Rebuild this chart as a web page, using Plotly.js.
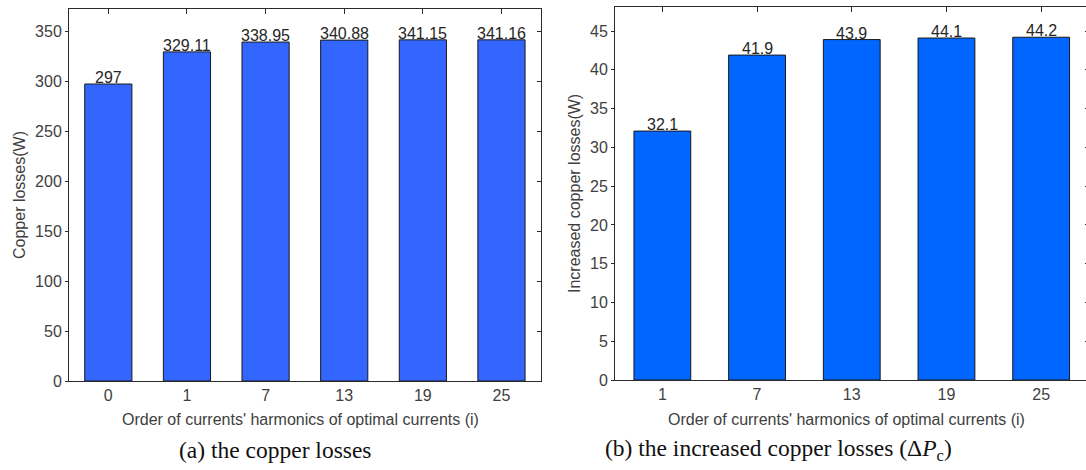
<!DOCTYPE html>
<html>
<head>
<meta charset="utf-8">
<script src="https://cdn.plot.ly/plotly-3.0.1.min.js"></script>
<style>
html, body { margin: 0; padding: 0; background: #ffffff; overflow: hidden; }
#chart { width: 1090px; height: 470px; }
</style>
</head>
<body>
<div id="chart"></div>
<script>
// ---- data ----
const harmonicsA = ['0', '1', '7', '13', '19', '25'];
const copperLosses = [297, 329.11, 338.95, 340.88, 341.15, 341.16];
const labelsA = ['297', '329.11', '338.95', '340.88', '341.15', '341.16'];

const harmonicsB = ['1', '7', '13', '19', '25'];
const increasedLosses = [32.1, 41.9, 43.9, 44.1, 44.2];
const labelsB = ['32.1', '41.9', '43.9', '44.1', '44.2'];

const yTicksA = [0, 50, 100, 150, 200, 250, 300, 350];
const yTicksB = [0, 5, 10, 15, 20, 25, 30, 35, 40, 45];

const xTitle = "Order of currents' harmonics of optimal currents (i)";
const yTitleA = 'Copper losses(W)';
const yTitleB = 'Increased copper losses(W)';
const captionA = '(a) the copper losses';
const captionB = '(b) the increased copper losses (\u0394<i>P</i><sub><span style="font-style:normal">c</span></sub>)';

// ---- styling ----
const W = 1090, H = 470;
const sans = '"Liberation Sans", Arial, Helvetica, sans-serif';
const serif = '"Liberation Serif", "Times New Roman", serif';
const axisColor = '#2b2b2b';
const tickFont = {family: sans, size: 16, color: '#404040'};

const traces = [
  {type: 'bar', x: harmonicsA, y: copperLosses, xaxis: 'x', yaxis: 'y',
   width: 0.6, marker: {color: '#3366ff', line: {color: '#1a1a1a', width: 1}},
   hoverinfo: 'x+y', showlegend: false},
  {type: 'bar', x: harmonicsB, y: increasedLosses, xaxis: 'x2', yaxis: 'y2',
   width: 0.6, marker: {color: '#0066ff', line: {color: '#1a1a1a', width: 1}},
   hoverinfo: 'x+y', showlegend: false},
  // empty traces so the right-hand tick overlays are drawn
  {type: 'scatter', x: [], y: [], xaxis: 'x', yaxis: 'y3', showlegend: false, hoverinfo: 'skip'},
  {type: 'scatter', x: [], y: [], xaxis: 'x2', yaxis: 'y4', showlegend: false, hoverinfo: 'skip'}
];

function xAxis(domain, cats, anchor) {
  return {
    domain: domain, anchor: anchor, type: 'category',
    categoryorder: 'array', categoryarray: cats,
    range: [-0.5, cats.length - 0.5],
    showline: true, linecolor: axisColor, linewidth: 1, mirror: 'ticks',
    ticks: 'inside', ticklen: 5, tickcolor: axisColor, tickwidth: 1,
    layer: 'below traces', showgrid: false, zeroline: false,
    tickfont: tickFont, fixedrange: true
  };
}
function yAxis(domain, range, ticks, anchor) {
  return {
    domain: domain, anchor: anchor, range: range,
    tickmode: 'array', tickvals: ticks, ticktext: ticks.map(String),
    showline: true, linecolor: axisColor, linewidth: 1, mirror: true,
    ticks: 'outside', ticklen: 3, tickcolor: axisColor, tickwidth: 1,
    showgrid: false, zeroline: false, tickfont: tickFont, fixedrange: true
  };
}
function yOverlay(over, anchor, range, ticks) {
  return {
    overlaying: over, anchor: anchor, side: 'right', range: range,
    tickmode: 'array', tickvals: ticks, showticklabels: false,
    ticks: 'inside', ticklen: 4, tickcolor: axisColor, tickwidth: 1,
    showline: false, showgrid: false, zeroline: false, fixedrange: true
  };
}

const domXA = [69 / W, 540.8 / W];
const domXB = [615 / W, 1088.5 / W];
const domYA = [(H - 381) / H, (H - 9) / H];
const domYB = [(H - 380) / H, (H - 7) / H];
const rangeA = [0, 372];
const rangeB = [0, 48.1];

const annotations = [];
// category axes: position value labels by category index
harmonicsA.forEach((c, i) => annotations.push({
  xref: 'x', yref: 'y', x: i, y: copperLosses[i], text: labelsA[i],
  showarrow: false, yanchor: 'bottom', yshift: -4,
  font: {family: sans, size: 16, color: '#262626'}
}));
harmonicsB.forEach((c, i) => annotations.push({
  xref: 'x2', yref: 'y2', x: i, y: increasedLosses[i], text: labelsB[i],
  showarrow: false, yanchor: 'bottom', yshift: -4,
  font: {family: sans, size: 16, color: '#262626'}
}));
// axis titles and captions
annotations.push(
  {xref: 'paper', yref: 'paper', x: 300 / W, y: (H - 419) / H, text: xTitle,
   showarrow: false, xanchor: 'center', yanchor: 'middle', font: {family: sans, size: 16, color: '#404040'}},
  {xref: 'paper', yref: 'paper', x: 846 / W, y: (H - 419) / H, text: xTitle,
   showarrow: false, xanchor: 'center', yanchor: 'middle', font: {family: sans, size: 16, color: '#404040'}},
  {xref: 'paper', yref: 'paper', x: 19 / W, y: (H - 195) / H, text: yTitleA, textangle: -90,
   showarrow: false, xanchor: 'center', yanchor: 'middle', font: {family: sans, size: 16, color: '#404040'}},
  {xref: 'paper', yref: 'paper', x: 574 / W, y: (H - 194) / H, text: yTitleB, textangle: -90,
   showarrow: false, xanchor: 'center', yanchor: 'middle', font: {family: sans, size: 16, color: '#404040'}},
  {xref: 'paper', yref: 'paper', x: 275 / W, y: (H - 450) / H, text: captionA,
   showarrow: false, xanchor: 'center', yanchor: 'middle', font: {family: serif, size: 23.5, color: '#111111'}},
  {xref: 'paper', yref: 'paper', x: 778 / W, y: (H - 450) / H, text: captionB,
   showarrow: false, xanchor: 'center', yanchor: 'middle', font: {family: serif, size: 23.5, color: '#111111'}}
);

const layout = {
  width: W, height: H,
  margin: {l: 0, r: 0, t: 0, b: 0, pad: 0},
  paper_bgcolor: '#ffffff', plot_bgcolor: '#ffffff',
  showlegend: false, bargap: 0.4,
  font: {family: sans, size: 16, color: '#404040'},
  xaxis: xAxis(domXA, harmonicsA, 'y'),
  yaxis: yAxis(domYA, rangeA, yTicksA, 'x'),
  xaxis2: xAxis(domXB, harmonicsB, 'y2'),
  yaxis2: yAxis(domYB, rangeB, yTicksB, 'x2'),
  yaxis3: yOverlay('y', 'x', rangeA, yTicksA),
  yaxis4: yOverlay('y2', 'x2', rangeB, yTicksB),
  annotations: annotations
};

Plotly.newPlot('chart', traces, layout, {displayModeBar: false, staticPlot: true});
</script>
</body>
</html>
